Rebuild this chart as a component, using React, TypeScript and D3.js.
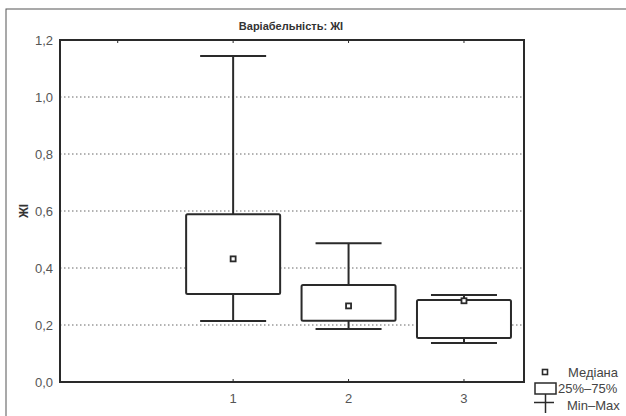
import React from "react";
import * as d3 from "d3";

const categories = ["1", "2", "3"];
const mins = [0.214, 0.186, 0.137];
const q1s = [0.309, 0.215, 0.154];
const medians = [0.432, 0.267, 0.285];
const q3s = [0.589, 0.34, 0.288];
const maxs = [1.144, 0.487, 0.305];
const yTicks = [0, 0.2, 0.4, 0.6, 0.8, 1.0, 1.2];
const topTicks = [0, 1, 2, 3];

const W = 626, H = 416;
const L = 60, R = 524, T = 40, B = 382;

export default function App() {
  const x = d3.scaleLinear().domain([-0.5, 3.52]).range([L, R]);
  const y = d3.scaleLinear().domain([0, 1.2]).range([B, T]);
  const fmt = (v: number) => d3.format(".1f")(v).replace(".", ",");
  const boxW = 94, capW = 66;
  const dark = "#2a2a2a";
  const font = "'Liberation Sans', Arial, sans-serif";
  return (
    <svg width={W} height={H} style={{ position: "absolute", left: 0, top: 0, background: "#fff" }}>
      <rect x={6} y={9} width={700} height={500} fill="none" stroke="#555" strokeWidth={1} />
      <text x={291} y={30} textAnchor="middle" fontFamily={font} fontWeight="bold" fontSize={11} fill="#333">Варіабельність: ЖІ</text>
      {yTicks.slice(1, -1).map((t) => (
        <line key={"g" + t} x1={L} x2={R} y1={y(t)} y2={y(t)} stroke="#666" strokeWidth={1} strokeDasharray="1.5,2.5" />
      ))}
      {yTicks.map((t) => (
        <text key={"y" + t} x={53} y={y(t) + 4.5} textAnchor="end" fontFamily={font} fontSize={13} fill="#555">{fmt(t)}</text>
      ))}
      <text transform={`translate(28,${y(0.6)}) rotate(-90)`} textAnchor="middle" fontFamily={font} fontWeight="bold" fontSize={12} fill="#333">ЖІ</text>
      {topTicks.map((t) => (
        <line key={"tt" + t} x1={x(t)} x2={x(t)} y1={T} y2={T + 3} stroke={dark} strokeWidth={1} />
      ))}
      {categories.map((c, i) => (
        <g key={"c" + c}>
          <line x1={x(i + 1)} x2={x(i + 1)} y1={B} y2={B - 3} stroke={dark} strokeWidth={1} />
          <text x={x(i + 1)} y={B + 21} textAnchor="middle" fontFamily={font} fontSize={13} fill="#555">{c}</text>
        </g>
      ))}
      {categories.map((c, i) => {
        const cx = x(i + 1);
        return (
          <g key={"b" + c} stroke={dark} strokeWidth={2} fill="#fff">
            <line x1={cx} x2={cx} y1={y(maxs[i])} y2={y(q3s[i])} />
            <line x1={cx} x2={cx} y1={y(q1s[i])} y2={y(mins[i])} />
            <line x1={cx - capW / 2} x2={cx + capW / 2} y1={y(maxs[i])} y2={y(maxs[i])} />
            <line x1={cx - capW / 2} x2={cx + capW / 2} y1={y(mins[i])} y2={y(mins[i])} />
            <rect x={cx - boxW / 2} y={y(q3s[i])} width={boxW} height={y(q1s[i]) - y(q3s[i])} rx={1.5} />
            <rect x={cx - 2.5} y={y(medians[i]) - 2.5} width={5} height={5} strokeWidth={1.8} />
          </g>
        );
      })}
      <rect x={L} y={T} width={R - L} height={B - T} fill="none" stroke={dark} strokeWidth={2} />
      <g stroke={dark} fill="#fff">
        <rect x={542.5} y={369.5} width={5} height={5} strokeWidth={1.6} />
        <rect x={535} y={383} width={21} height={11} strokeWidth={1.5} />
        <line x1={545.5} x2={545.5} y1={394} y2={413} strokeWidth={1.5} />
        <line x1={534} x2={554} y1={402.5} y2={402.5} strokeWidth={1.5} />
      </g>
      <g fontFamily={font} fontSize={13} fill="#444">
        <text x={568} y={377}>Медіана</text>
        <text x={558} y={393}>25%–75%</text>
        <text x={567} y={410}>Min–Max</text>
      </g>
    </svg>
  );
}
